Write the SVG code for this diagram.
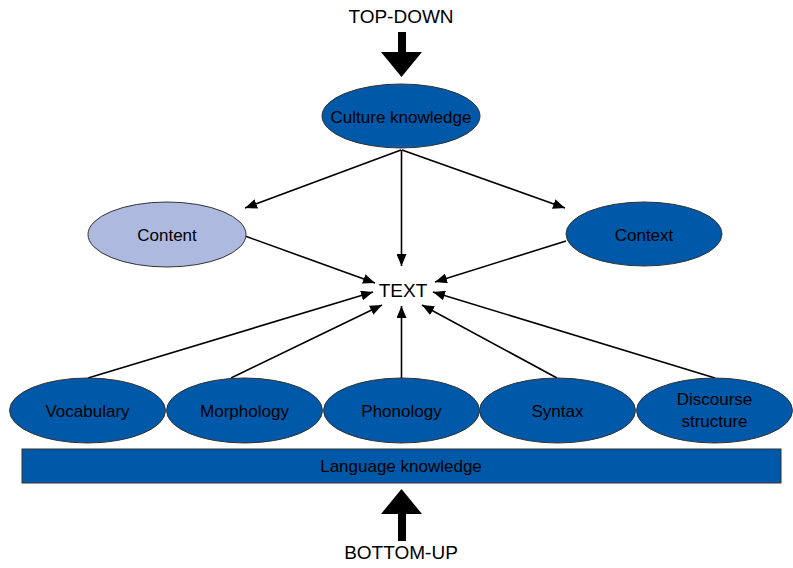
<svg xmlns="http://www.w3.org/2000/svg" width="793" height="568" viewBox="0 0 793 568">
<style>
text{font-family:"Liberation Sans",Arial,sans-serif;fill:#000;text-anchor:middle}
.n{fill:#0059A8;stroke:#333;stroke-width:1}
.lbl{font-size:17px}
.big{font-size:19px}
.c{stroke:#000;stroke-width:1.6;fill:none;marker-end:url(#ah)}
</style>
<defs>
<marker id="ah" viewBox="0 0 12 10" refX="12" refY="5" markerWidth="12" markerHeight="10" markerUnits="userSpaceOnUse" orient="auto">
<path d="M0,0 L12,5 L0,10 Z" fill="#000"/>
</marker>
</defs>
<rect width="793" height="568" fill="#fff"/>
<g id="connectors">
<line class="c" x1="401" y1="150" x2="245" y2="208"/>
<line class="c" x1="402" y1="150" x2="565" y2="208"/>
<line class="c" x1="401.5" y1="150" x2="401.5" y2="266"/>
<line class="c" x1="245" y1="236" x2="375" y2="283"/>
<line class="c" x1="566" y1="241" x2="435" y2="282"/>
<line class="c" x1="88" y1="378" x2="373" y2="292"/>
<line class="c" x1="231" y1="378" x2="382" y2="305"/>
<line class="c" x1="401.5" y1="378" x2="401.5" y2="306"/>
<line class="c" x1="557" y1="378" x2="422" y2="305"/>
<line class="c" x1="715" y1="378" x2="433" y2="292"/>
</g>
<g id="top-down">
<text class="big" x="401" y="23">TOP-DOWN</text>
<path d="M398,32 H406 V52 H422 L401.5,77 L381,52 H398 Z" fill="#000"/>
</g>
<g id="culture">
<ellipse class="n" cx="401" cy="116" rx="79" ry="32"/>
<text class="lbl" x="401" y="123">Culture knowledge</text>
</g>
<g id="content">
<ellipse cx="167" cy="234.5" rx="79" ry="32.5" fill="#AEB9E0" stroke="#333" stroke-width="1"/>
<text class="lbl" x="167" y="241">Content</text>
</g>
<g id="context">
<ellipse class="n" cx="644" cy="234" rx="78" ry="32"/>
<text class="lbl" x="644" y="241">Context</text>
</g>
<g id="text">
<text class="big" x="403" y="297">TEXT</text>
</g>
<g id="vocabulary">
<ellipse class="n" cx="87.5" cy="410.5" rx="78" ry="32.5"/>
<text class="lbl" x="87.5" y="417">Vocabulary</text>
</g>
<g id="morphology">
<ellipse class="n" cx="244.5" cy="410.5" rx="78" ry="32.5"/>
<text class="lbl" x="244.5" y="417">Morphology</text>
</g>
<g id="phonology">
<ellipse class="n" cx="401.5" cy="410.5" rx="78" ry="32.5"/>
<text class="lbl" x="401.5" y="417">Phonology</text>
</g>
<g id="syntax">
<ellipse class="n" cx="557.5" cy="410.5" rx="78" ry="32.5"/>
<text class="lbl" x="557.5" y="417">Syntax</text>
</g>
<g id="discourse">
<ellipse class="n" cx="714.5" cy="410.5" rx="78" ry="32.5"/>
<text class="lbl" x="714.5" y="405">Discourse</text>
<text class="lbl" x="714.5" y="427">structure</text>
</g>
<g id="language">
<rect class="n" x="22" y="449" width="759" height="34"/>
<text class="lbl" x="401" y="472">Language knowledge</text>
</g>
<g id="bottom-up">
<path d="M398,541 H406 V514 H422 L401.5,489 L381,514 H398 Z" fill="#000"/>
<text class="big" x="401" y="559">BOTTOM-UP</text>
</g>
</svg>
